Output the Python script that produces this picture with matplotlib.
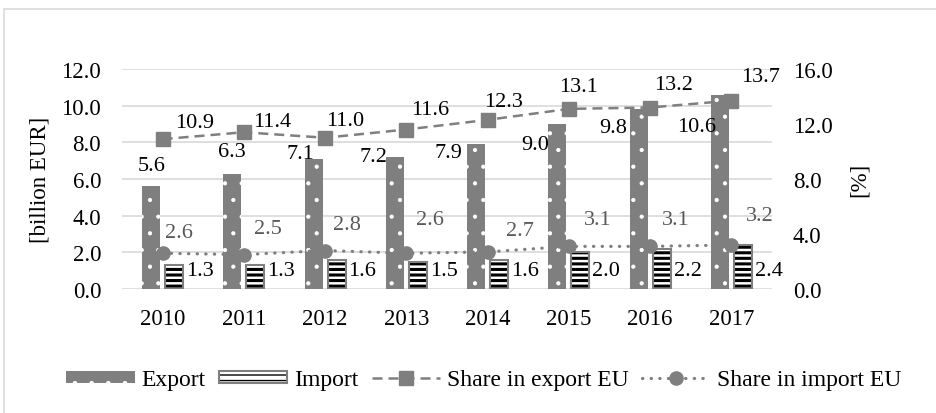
import numpy as np
import matplotlib.pyplot as plt
from matplotlib.patches import Rectangle, Patch
from matplotlib.lines import Line2D

plt.rcParams['font.family'] = ['Liberation Serif', 'DejaVu Serif']
plt.rcParams['font.size'] = 16.5

# data
years = ['2010', '2011', '2012', '2013', '2014', '2015', '2016', '2017']
export = [5.6, 6.3, 7.1, 7.2, 7.9, 9.0, 9.8, 10.6]
imports = [1.3, 1.3, 1.6, 1.5, 1.6, 2.0, 2.2, 2.4]
share_export = [10.9, 11.4, 11.0, 11.6, 12.3, 13.1, 13.2, 13.7]
share_import = [2.6, 2.5, 2.8, 2.6, 2.7, 3.1, 3.1, 3.2]

# label offsets in pixels (as placed in the original)
exp_off = [(1, 21), (0, 22), (-13, 5), (-21, 0), (-28, -8), (-22, -20), (-25, -18), (-23, -32)]
sexp_off = [(32, 17), (28, 11), (20, 17), (24, 20), (16, 18), (10, 22), (23, 23), (29, 24)]
simp_off = [(16, 21), (24, 26), (22, 26), (24, 34), (32, 21), (29, 27), (26, 27), (28, 29)]

gray = '#7f7f7f'
px = 0.72  # pixel -> points at dpi 100

fig = plt.figure(figsize=(9.37, 4.14), dpi=100)
# light frame around the chart area
fig.patches.append(Rectangle((4/937, -0.1), 1.2, 1.1 - 10/414, transform=fig.transFigure,
                             fill=False, edgecolor='#d9d9d9', linewidth=1.2))

ax = fig.add_axes([122/937, 124/414, 650/937, 220/414])
ax2 = ax.twinx()

x = np.arange(len(years))
w = 0.22
off = 0.142

# export bars: gray with white dots
b1 = ax.bar(x - off, export, w, color=gray, edgecolor='white', linewidth=0, hatch='.', zorder=2)
for p in b1:
    if hasattr(p, 'set_hatch_linewidth'):
        p.set_hatch_linewidth(0.6)

# import bars: white with black stripes, gray outline
b2 = ax.bar(x + off, imports, w, color='white', edgecolor='black', linewidth=0, hatch='---', zorder=2)
for p in b2:
    if hasattr(p, 'set_hatch_linewidth'):
        p.set_hatch_linewidth(2.2)
ax.bar(x + off, imports, w, fill=False, edgecolor=gray, linewidth=1.5, zorder=3)

ax.set_ylim(0, 12)
ax.set_yticks(np.arange(0, 12.1, 2))
ax.set_yticklabels([f'{v:.1f}' for v in np.arange(0, 12.1, 2)])
ax.set_xlim(-0.5, len(years) - 0.5)
ax.set_xticks(x)
ax.set_xticklabels(years)
ax.grid(axis='y', color='#d9d9d9', linewidth=1.2)
ax.set_axisbelow(True)
ax.tick_params(axis='y', length=0, pad=15)
ax.tick_params(axis='x', length=0, pad=14)
ax.set_ylabel('[billion EUR]', labelpad=8)

# share lines on right axis
ax2.plot(x, share_export, color=gray, linewidth=1.8, linestyle=(0, (4, 2.4)),
         marker='s', markersize=9.5, zorder=4)
ax2.plot(x, share_import, color=gray, linewidth=2.3, linestyle=(0, (0.1, 2.6)),
         dash_capstyle='round', marker='o', markersize=9.5, zorder=4)
ax2.set_ylim(0, 16)
ax2.set_yticks(np.arange(0, 16.1, 4))
ax2.set_yticklabels([f'{v:.1f}' for v in np.arange(0, 16.1, 4)])
ax2.tick_params(axis='y', length=0, pad=15)
ax2.set_ylabel('[%]', labelpad=12)

for a in (ax, ax2):
    for s in a.spines.values():
        s.set_visible(False)

# data labels
for i in range(len(years)):
    dx, dy = exp_off[i]
    ax.annotate(f'{export[i]:.1f}', (x[i] - off, export[i]), xytext=(dx * px, dy * px),
                textcoords='offset points', ha='center', va='center', fontsize=16, zorder=6)
    ax.annotate(f'{imports[i]:.1f}', (x[i] + off + w / 2, 1.0), xytext=(3 * px, 0),
                textcoords='offset points', ha='left', va='center', fontsize=16, zorder=6)
    dx, dy = sexp_off[i]
    ax2.annotate(f'{share_export[i]:.1f}', (x[i], share_export[i]), xytext=(dx * px, dy * px),
                 textcoords='offset points', ha='center', va='center', fontsize=16, zorder=6)
    dx, dy = simp_off[i]
    ax2.annotate(f'{share_import[i]:.1f}', (x[i], share_import[i]), xytext=(dx * px, dy * px),
                 textcoords='offset points', ha='center', va='center', fontsize=16,
                 color='#595959', zorder=6)

# legend
h_exp = Patch(facecolor=gray, edgecolor='white', linewidth=0, hatch='.')
h_imp = Patch(facecolor='white', edgecolor='black', linewidth=0, hatch='---')
if hasattr(h_imp, 'set_hatch_linewidth'):
    h_imp.set_hatch_linewidth(2.2)
    h_exp.set_hatch_linewidth(0.6)
h_imp_out = Patch(fill=False, edgecolor=gray, linewidth=1.5)
h_sexp = Line2D([], [], color=gray, linewidth=1.8, linestyle=(0, (4, 2.4)), marker='s', markersize=9.5)
h_simp = Line2D([], [], color=gray, linewidth=2.3, linestyle=(0, (0.1, 2.6)),
                dash_capstyle='round', marker='o', markersize=9.5)
fig.legend([h_exp, (h_imp, h_imp_out), h_sexp, h_simp],
           ['Export', 'Import', 'Share in export EU', 'Share in import EU'],
           loc='center', bbox_to_anchor=(484/937, 33/414), ncol=4, frameon=False,
           handlelength=2.9, handleheight=0.45, handletextpad=0.3, columnspacing=0.55,
           fontsize=17)

fig.savefig('out.png', dpi=100)
